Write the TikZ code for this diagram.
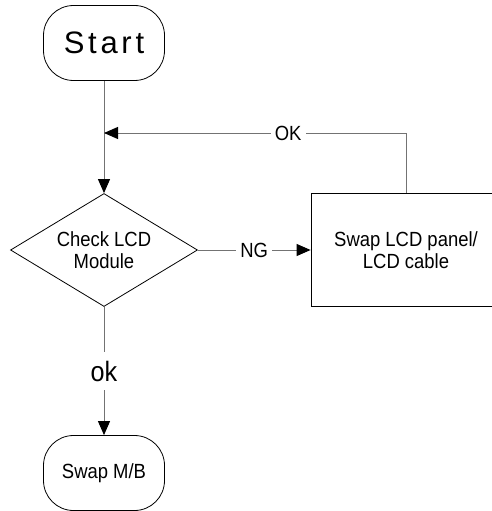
\documentclass[tikz,border=0pt]{standalone}
\usepackage{fontspec}
\setmainfont{Liberation Sans}[FakeStretch=0.9]
\newfontfamily\startfont[LetterSpace=12]{Liberation Sans}
\usetikzlibrary{arrows.meta,positioning,shapes.geometric}

\begin{document}
\begin{tikzpicture}[
  x=1pt, y=-1pt,
  font=\fontsize{20.5}{22}\selectfont,
  >={Triangle[length=14pt, width=12pt, color=black]},
  term/.style={draw=black, line width=0.8pt, rounded corners=30pt,
               minimum width=121pt, minimum height=75pt, align=center},
  decide/.style={diamond, draw=black, line width=0.8pt, aspect=1.65,
                 minimum width=187pt, minimum height=113pt, inner sep=0pt, align=center},
  act/.style={draw=black, line width=0.8pt, minimum width=190pt,
              minimum height=113pt, align=center},
  lbl/.style={fill=white, inner sep=4pt},
  arr/.style={->, line width=1pt, draw=black!55},
]
\useasboundingbox (0,0) rectangle (492,511);

% Start
\node[term] (start) at (104,43) {\startfont\fontsize{31}{34}\selectfont Start};

% Decision
\node[decide] (check) at (104,250) {Check LCD\\Module};

% Swap panel
\node[act] (panel) at (406,250) {Swap LCD panel/\\LCD cable};

% End
\node[term] (mb) at (104,473) {Swap M/B};

% Loop back point
\coordinate (join) at (104,133);
\coordinate (turn) at (406,133);

% Arrows
\draw[arr] (start) -- (check);
\draw[arr] (check) -- node[lbl] {NG} (panel);
\draw[arr] (panel) -- (turn) -- node[lbl, pos=0.39] {OK} (join);
\draw[arr] (check) -- node[lbl, inner sep=9pt, font=\fontsize{28}{30}\selectfont] {ok} (mb);

\end{tikzpicture}
\end{document}
